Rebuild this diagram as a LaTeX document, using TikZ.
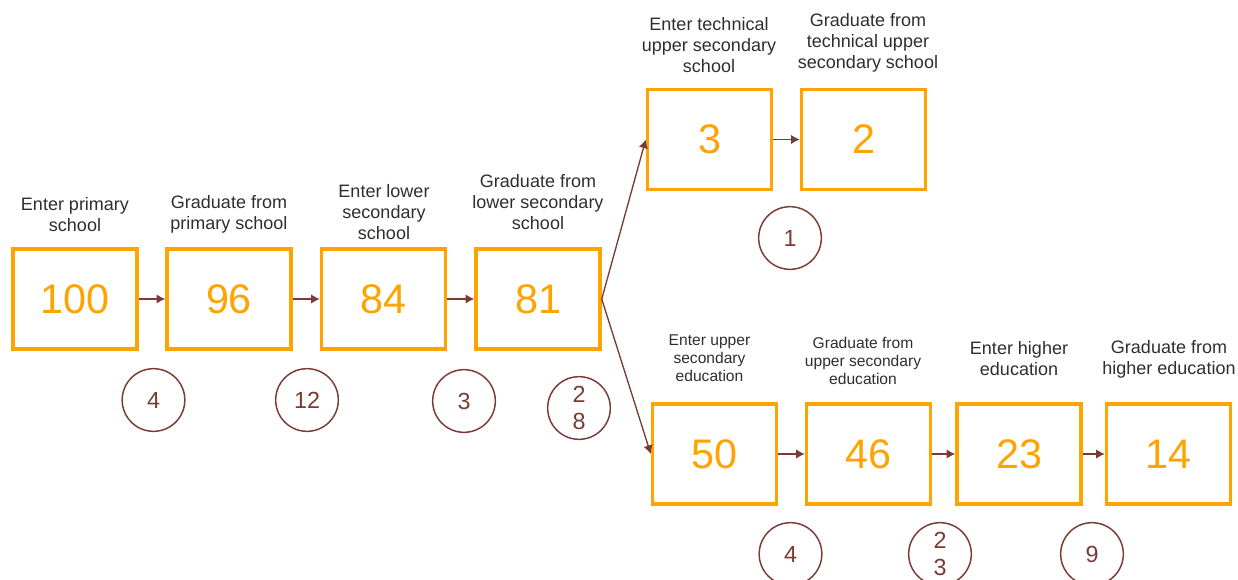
\documentclass[tikz,border=0pt]{standalone}
\usepackage{fontspec}
\setmainfont{Liberation Sans}
\usepackage{xcolor}
\usepackage{tikz}
\usetikzlibrary{arrows.meta}
\definecolor{flow}{HTML}{FFA300}
\definecolor{rust}{HTML}{7B3B35}
\definecolor{ink}{HTML}{2E2E2E}
\tikzset{
  every node/.style={font=\fontsize{13.5}{15.75}\selectfont,text=ink},
  stage/.style={draw=flow,line width=2.6pt,minimum width=93pt,minimum height=75pt,
                inner sep=0pt,font=\fontsize{31}{34}\selectfont,text=flow},
  drop/.style={circle,draw=rust,line width=1.1pt,minimum size=47pt,
               inner sep=0pt,align=center,font=\fontsize{17.5}{20}\selectfont,text=rust},
  ar/.style={-{Latex[length=6.5pt,width=7pt]},draw=rust,line width=1pt},
  lab/.style={align=center,inner sep=0pt},
  slab/.style={lab,font=\fontsize{11.7}{13.5}\selectfont},
}

\begin{document}
\begin{tikzpicture}[x=0.75pt,y=-0.75pt]
\useasboundingbox (0,0) rectangle (1238,579);

% main track
\node[stage] (pri)  at (75,299)    {100};
\node[stage] (prig) at (229,299)   {96};
\node[stage] (low)  at (383.5,299) {84};
\node[stage] (lowg) at (538,299)   {81};

% technical branch
\node[stage] (tec)  at (709.5,139.5) {3};
\node[stage] (tecg) at (863.5,139.5) {2};

% general branch
\node[stage] (upp)  at (714.5,454)  {50};
\node[stage] (uppg) at (868.5,454)  {46};
\node[stage] (hig)  at (1019,454)   {23};
\node[stage] (higg) at (1168.5,454) {14};

\node[lab] at (75,214.5)  {Enter primary\\school};
\node[lab] at (229,214.5) {Graduate from\\primary school};
\node[lab] at (384,212)   {Enter lower\\secondary\\school};
\node[lab] at (538,202)   {Graduate from\\lower secondary\\school};
\node[lab] at (709,45)    {Enter technical\\upper secondary\\school};
\node[lab] at (868,43)    {Graduate from\\technical upper\\secondary school};
\node[slab] at (709.5,358) {Enter upper\\secondary\\education};
\node[slab] at (863,361)   {Graduate from\\upper secondary\\education};
\node[lab] at (1019,359)  {Enter higher\\education};
\node[lab] at (1169,359)  {Graduate from\\higher education};

\draw[ar] (pri) -- (prig);
\draw[ar] (prig) -- (low);
\draw[ar] (low) -- (lowg);
\draw[ar] (lowg.east) -- (tec.west);
\draw[ar] (lowg.east) -- (upp.west);
\draw[ar] (tec) -- (tecg);
\draw[ar] (upp) -- (uppg);
\draw[ar] (uppg) -- (hig);
\draw[ar] (hig) -- (higg);

% drop-outs between stages
\node[drop] (d1) at (153.5,400) {4};
\node[drop] (d2) at (307,400)   {12};
\node[drop] (d3) at (464,401)   {3};
\node[drop] (d4) at (579,408)   {2\\8};
\node[drop] (d5) at (790,238)   {1};
\node[drop] (d6) at (790.5,554) {4};
\node[drop] (d7) at (940,554)   {2\\3};
\node[drop] (d8) at (1092,554)  {9};
\end{tikzpicture}
\end{document}
